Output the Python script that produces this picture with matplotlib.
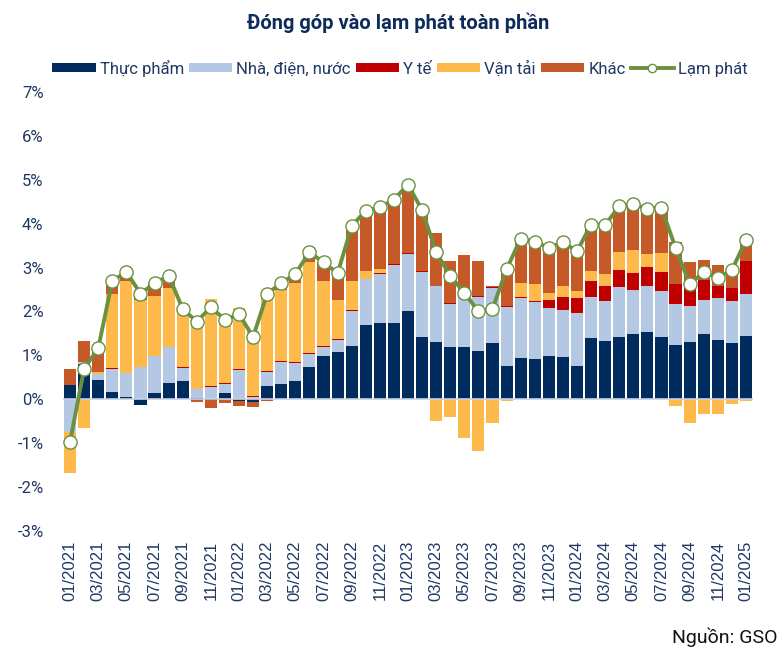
import matplotlib
matplotlib.use("Agg")
import matplotlib.pyplot as plt
import numpy as np
from matplotlib.patches import Patch
from matplotlib.lines import Line2D

months = [f"{m:02d}/{y}" for y in range(2021, 2026) for m in range(1, 13)][:49]

food = [0.32, 0.80, 0.43, 0.17, 0.05, -0.12, 0.15, 0.37, 0.42, 0.03,
        -0.02, 0.14, -0.04, -0.07, 0.30, 0.34, 0.41, 0.73, 0.98, 1.08,
        1.21, 1.70, 1.73, 1.73, 2.02, 1.42, 1.30, 1.19, 1.19, 1.10,
        1.28, 0.76, 0.94, 0.92, 0.98, 0.96, 0.76, 1.39, 1.33, 1.43,
        1.48, 1.53, 1.42, 1.23, 1.30, 1.48, 1.36, 1.28, 1.45]
housing = [-0.75, 0.05, 0.15, 0.53, 0.55, 0.73, 0.83, 0.82, 0.30, 0.21,
           0.28, 0.21, 0.66, 0.05, 0.32, 0.51, 0.42, 0.30, 0.21, 0.28,
           0.81, 1.03, 1.12, 1.33, 1.30, 1.49, 1.27, 0.98, 1.14, 1.23,
           1.26, 1.34, 1.37, 1.30, 1.10, 1.08, 1.20, 0.95, 0.92, 1.12,
           1.00, 1.06, 1.05, 0.95, 0.83, 0.79, 0.95, 0.97, 0.95]
health = [0.00, 0.00, 0.00, 0.01, 0.01, 0.01, 0.01, 0.01, 0.01, 0.00,
          0.02, 0.01, 0.02, 0.02, 0.02, 0.02, 0.02, 0.02, 0.02, 0.02,
          0.02, 0.02, 0.02, 0.03, 0.02, 0.02, 0.02, 0.03, 0.02, 0.02,
          0.02, 0.02, 0.03, 0.02, 0.18, 0.29, 0.34, 0.35, 0.34, 0.39,
          0.39, 0.43, 0.43, 0.45, 0.40, 0.45, 0.28, 0.29, 0.74]
transport = [-0.92, -0.65, 0.04, 1.70, 2.08, 1.52, 1.36, 1.33, 1.30, 1.55,
             1.98, 1.50, 1.40, 1.49, 1.79, 1.61, 1.79, 2.07, 1.48, 0.88,
             0.66, 0.17, 0.09, 0.00, 0.00, 0.00, -0.49, -0.40, -0.88, -1.17,
             -0.55, -0.03, 0.30, 0.38, 0.16, 0.24, 0.16, 0.24, 0.27, 0.42,
             0.54, 0.30, 0.43, -0.16, -0.53, -0.33, -0.34, -0.10, -0.03]
other = [0.36, 0.48, 0.53, 0.27, 0.20, 0.23, 0.32, 0.27, 0.02, -0.07,
         -0.18, -0.08, -0.11, -0.11, -0.03, 0.14, 0.21, 0.20, 0.43, 0.61,
         1.21, 1.34, 1.36, 1.46, 1.52, 1.36, 1.20, 0.95, 0.93, 0.79,
         0.03, 0.82, 0.97, 0.96, 1.02, 1.01, 0.89, 1.02, 1.10, 1.01,
         1.00, 1.05, 1.03, 0.95, 0.60, 0.46, 0.48, 0.47, 0.47]
inflation = [-0.97, 0.70, 1.16, 2.70, 2.90, 2.41, 2.64, 2.82, 2.06, 1.77,
             2.10, 1.81, 1.94, 1.42, 2.41, 2.64, 2.86, 3.35, 3.12, 2.87,
             3.94, 4.30, 4.37, 4.55, 4.89, 4.31, 3.35, 2.81, 2.43, 2.00,
             2.06, 2.96, 3.66, 3.59, 3.45, 3.58, 3.37, 3.98, 3.97, 4.40,
             4.44, 4.34, 4.36, 3.45, 2.63, 2.89, 2.77, 2.94, 3.63]

series_names = ["Thực phẩm", "Nhà, điện, nước", "Y tế", "Vận tải", "Khác"]
series_vals = [food, housing, health, transport, other]
colors = ["#002B5E", "#B4C8E4", "#C00000", "#FDB94A", "#C55A28"]
line_color = "#6B9140"
text_color = "#1F3864"
yticks = [-3, -2, -1, 0, 1, 2, 3, 4, 5, 6, 7]

fig = plt.figure(figsize=(7.84, 6.52), dpi=100)
ax = fig.add_axes([63/784, 1-531/652, 690/784, (531-92)/652])

x = np.arange(len(months))
pos_base = np.zeros(len(months))
neg_base = np.zeros(len(months))
for name, vals, c in zip(series_names, series_vals, colors):
    v = np.array(vals, dtype=float)
    pos = np.where(v > 0, v, 0)
    neg = np.where(v < 0, v, 0)
    ax.bar(x, pos, bottom=pos_base, width=0.86, color=c, linewidth=0, zorder=2)
    ax.bar(x, neg, bottom=neg_base, width=0.86, color=c, linewidth=0, zorder=2)
    pos_base += pos
    neg_base += neg

ax.axhline(0, color="#C9D3E3", linewidth=1.2, zorder=3)
ax.plot(x, inflation, color=line_color, linewidth=2.8, marker="o",
        markersize=9.5, markerfacecolor="white", markeredgecolor=line_color,
        markeredgewidth=1.0, zorder=4)

ax.set_xlim(-0.5, len(months) - 0.5)
ax.set_ylim(-3, 7)
ax.set_yticks(yticks)
ax.set_yticklabels([f"{t}%" for t in yticks], fontfamily="Roboto",
                   fontsize=12, color=text_color)
ax.set_xticks(x[::2])
ax.set_xticklabels(months[::2], rotation=90, fontfamily="Liberation Sans",
                   fontsize=12, color=text_color)
ax.tick_params(axis="both", length=0)
ax.tick_params(axis="y", pad=14)
ax.tick_params(axis="x", pad=7)
for s in ax.spines.values():
    s.set_visible(False)

fig.text(398/784, 1-23/652, "Đóng góp vào lạm phát toàn phần", ha="center",
         va="center", fontfamily="Roboto", fontweight="bold", fontsize=14.5,
         color="#0D2B5B")

handles = [Patch(facecolor=c, edgecolor="none") for c in colors]
handles.append(Line2D([0], [0], color=line_color, linewidth=2.8, marker="o",
                      markersize=6, markerfacecolor="white",
                      markeredgecolor=line_color))
leg = fig.legend(handles, series_names + ["Lạm phát"], loc="center",
                 bbox_to_anchor=(400/784, 1-68/652), ncol=6, frameon=False,
                 prop={"family": "Roboto", "size": 12},
                 handlelength=2.6, handleheight=0.4, handletextpad=0.25,
                 columnspacing=0.3, borderaxespad=0)
for t in leg.get_texts():
    t.set_color(text_color)

fig.text(777/784, 1-637/652, "Nguồn: GSO", ha="right", va="center",
         fontfamily="Roboto", fontsize=14, color="#111111")

fig.savefig("out.png", dpi=100)
